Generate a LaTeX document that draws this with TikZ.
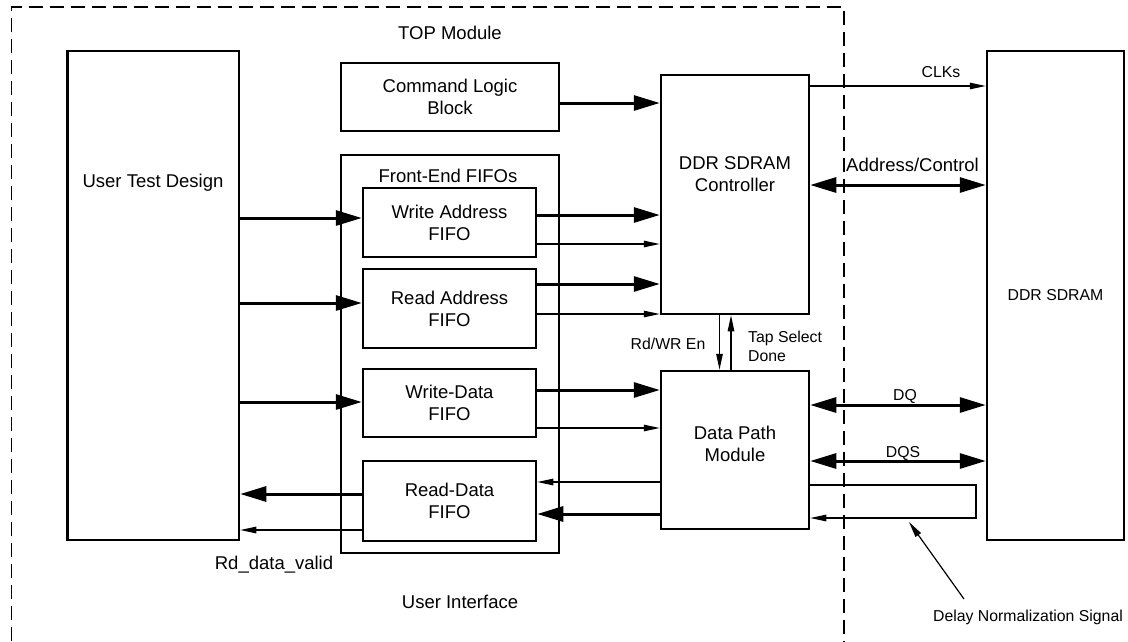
\documentclass[tikz,border=0pt]{standalone}
\usepackage{fontspec}
\setmainfont{Liberation Sans}
\usetikzlibrary{arrows.meta}
\newcommand\bigf{\fontsize{18.5}{22}\selectfont}
\newcommand\smallf{\fontsize{15.8}{19}\selectfont}
\begin{document}
\begin{tikzpicture}[x=1pt,y=-1pt,
  box/.style={draw, line width=2.5pt, inner sep=0pt, align=center, font=\bigf},
  bigt/.style={inner sep=0pt, align=center, font=\bigf},
  smt/.style={inner sep=0pt, align=center, font=\smallf},
  tk/.style={line width=3pt, -{Triangle[length=26pt,width=15pt]}},
  tkd/.style={line width=3pt, {Triangle[length=26pt,width=15pt]}-{Triangle[length=26pt,width=15pt]}},
  tn/.style={line width=1.2pt, -{Triangle[length=16pt,width=6.5pt]}},
  bound/.style={line width=1.2pt, dash pattern=on 14pt off 7pt}]
\useasboundingbox (0,0) rectangle (1128,641);
% boundary of TOP module
\coordinate (bl) at (11.7,641);
\coordinate (tl) at (11.7,7);
\coordinate (tr) at (844,7);
\coordinate (br) at (844,641);
\draw[bound] (bl) -- (tl) -- (tr) -- (br);
% boxes
\node[box, minimum width=171.3pt, minimum height=489pt] (utd) at (153.35,295.5) {};
\node[bigt] (utdt) at (153,183) {User Test Design};
\node[box, minimum width=218pt, minimum height=68pt] (clb) at (450,97) {Command Logic\\Block};
\node[box, minimum width=218pt, minimum height=398pt] (fe) at (450,354) {};
\node[bigt] (fet) at (448,176) {Front-End FIFOs};
\node[box, minimum width=173pt, minimum height=69pt] (waf) at (449.5,222.5) {Write Address\\FIFO};
\node[box, minimum width=173pt, minimum height=79pt] (raf) at (449.5,308.5) {Read Address\\FIFO};
\node[box, minimum width=173pt, minimum height=68pt] (wdf) at (449.5,403) {Write-Data\\FIFO};
\node[box, minimum width=173pt, minimum height=80pt] (rdf) at (449.5,501) {Read-Data\\FIFO};
\node[box, minimum width=148pt, minimum height=239pt] (ctrl) at (735,194.5) {};
\node[bigt] (ctrlt) at (735,174) {DDR SDRAM\\Controller};
\node[box, minimum width=148pt, minimum height=158pt] (dpm) at (735,450) {};
\node[bigt] (dpmt) at (735,444) {Data Path\\Module};
\node[box, minimum width=137pt, minimum height=489pt, font=\smallf] (ddr) at (1055.5,295.5) {DDR SDRAM};
% thick connectors
\draw[tk] (utd.east|-0,218) -- (waf.west|-0,218);
\draw[tk] (utd.east|-0,303) -- (raf.west|-0,303);
\draw[tk] (utd.east|-0,402) -- (wdf.west|-0,402);
\draw[tk] (rdf.west|-0,494) -- (utd.east|-0,494);
\draw[tk] (clb.east|-0,103) -- (ctrl.west|-0,103);
\draw[tk] (waf.east|-0,215) -- (ctrl.west|-0,215);
\draw[tk] (raf.east|-0,284) -- (ctrl.west|-0,284);
\draw[tk] (wdf.east|-0,390) -- (dpm.west|-0,390);
\draw[tk] (dpm.west|-0,514) -- (rdf.east|-0,514);
\draw[tkd] (ctrl.east|-0,185) -- (ddr.west|-0,185);
\draw[tkd] (dpm.east|-0,405) -- (ddr.west|-0,405);
\draw[tkd] (dpm.east|-0,461) -- (ddr.west|-0,461);
% thin connectors
\draw[tn] (rdf.west|-0,530) -- (utd.east|-0,530);
\draw[tn] (waf.east|-0,244) -- (ctrl.west|-0,244);
\draw[tn] (raf.east|-0,314) -- (ctrl.west|-0,314);
\draw[tn] (wdf.east|-0,428) -- (dpm.west|-0,428);
\draw[tn] (dpm.west|-0,482) -- (rdf.east|-0,482);
\draw[tn] (ctrl.east|-0,86) -- (ddr.west|-0,86);
\draw[tn] (ctrl.south-|719.5,0) -- (dpm.north-|719.5,0);
\draw[tn] (dpm.north-|731,0) -- (ctrl.south-|731,0);
\coordinate (lp1) at (976,485);
\coordinate (lp2) at (976,518);
\draw[tn] (dpm.east|-lp1) -- (lp1) -- (lp2) -- (dpm.east|-lp2);
\coordinate (dn) at (964,599);
\coordinate (dnh) at (909,522);
\draw[tn] (dn) -- (dnh);
% labels
\node[bigt] (top) at (450,33) {TOP Module};
\node[bigt] (ui) at (460,602) {User Interface};
\node[bigt] (rdv) at (274,565) {Rd\_data\_valid};
\node[smt] (clk) at (941,72) {CLKs};
\node[bigt, anchor=west] (adc) at (846,165) {Address/Control};
\node[smt] (rwe) at (668,344) {Rd/WR En};
\node[smt, anchor=west, align=left] (tsd) at (748,346) {Tap Select\\Done};
\node[smt] (dq) at (905,396) {DQ};
\node[smt] (dqs) at (903,453) {DQS};
\node[smt] (dns) at (1028,617) {Delay Normalization Signal};
\end{tikzpicture}
\end{document}
